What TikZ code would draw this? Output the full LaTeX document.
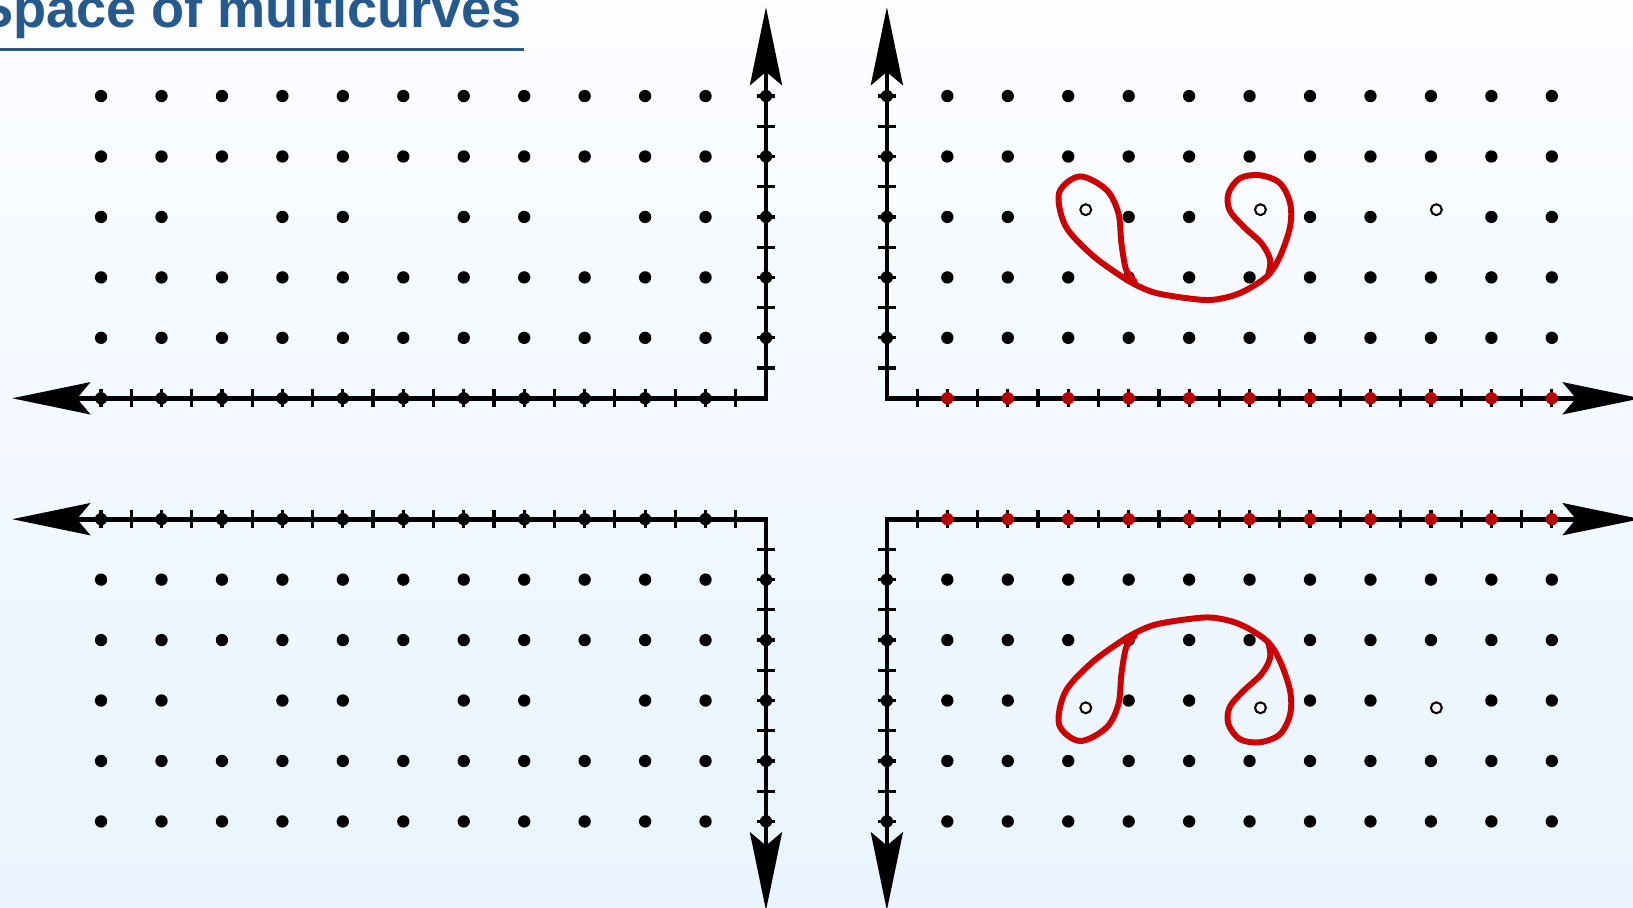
\documentclass[tikz,border=0pt]{standalone}
\usepackage{fontspec}
\setmainfont{Liberation Sans}
\usetikzlibrary{arrows.meta}
\definecolor{titleblue}{RGB}{38,89,140}
\definecolor{curvered}{RGB}{204,0,0}
\definecolor{dotred}{RGB}{180,0,0}
\definecolor{bgtop}{RGB}{252,253,255}
\definecolor{bgbot}{RGB}{233,244,254}
\begin{document}
\begin{tikzpicture}[x=1cm,y=1cm,
  axisline/.style={line width=2.2pt,
    {Stealth[length=1.29cm,width=0.53cm,inset=0.22cm]}-{Stealth[length=1.29cm,width=0.53cm,inset=0.22cm]}},
  tickmark/.style={line width=1.5pt},
  bdot/.style={fill=black},
  rdot/.style={fill=dotred},
  hole/.style={draw=black, line width=0.95pt, fill=white},
  curve/.style={draw=curvered, line width=2.8pt, line cap=round, line join=round}]
\useasboundingbox (-12.672,-8.432) rectangle (14.343,6.589);
\clip (-12.672,-8.432) rectangle (14.343,6.589);
\shade[top color=bgtop, bottom color=bgbot] (-12.672,-8.432) rectangle (14.343,6.589);

% title
\node[anchor=base east, inner sep=0, text=titleblue,
      font=\bfseries\fontsize{25.5}{30}\selectfont] (title) at (-4.03,6.13) {Space of multicurves};
\coordinate (ulA) at (-12.8,5.778);
\coordinate (ulB) at (-4.0,5.778);
\draw[titleblue, line width=1.4pt] (ulA) -- (ulB);

% corners and axis ends
\coordinate (cTL) at (0,0);   \coordinate (tlU) at (0,6.47);   \coordinate (tlL) at (-12.47,0);
\coordinate (cTR) at (2,0);   \coordinate (trU) at (2,6.47);   \coordinate (trR) at (14.47,0);
\coordinate (cBL) at (0,-2);  \coordinate (blD) at (0,-8.47);  \coordinate (blL) at (-12.47,-2);
\coordinate (cBR) at (2,-2);  \coordinate (brD) at (2,-8.47);  \coordinate (brR) at (14.47,-2);

% ticks
\foreach \i in {1,...,23} {
  \draw[tickmark] (-\i/2,-0.15) -- (-\i/2,0.15);
  \draw[tickmark] (-\i/2,-2.15) -- (-\i/2,-1.85);
  \draw[tickmark] (2+\i/2,-0.15) -- (2+\i/2,0.15);
  \draw[tickmark] (2+\i/2,-2.15) -- (2+\i/2,-1.85);
}
\foreach \i in {1,...,11} {
  \draw[tickmark] (-0.15,\i/2) -- (0.15,\i/2);
  \draw[tickmark] (1.85,\i/2) -- (2.15,\i/2);
  \draw[tickmark] (-0.15,-2-\i/2) -- (0.15,-2-\i/2);
  \draw[tickmark] (1.85,-2-\i/2) -- (2.15,-2-\i/2);
}

% axes
\draw[axisline] (tlU) -- (cTL) -- (tlL);
\draw[axisline] (trU) -- (cTR) -- (trR);
\draw[axisline] (blD) -- (cBL) -- (blL);
\draw[axisline] (brD) -- (cBR) -- (brR);

% axis dots
\foreach \i in {1,...,11} {
  \fill[bdot] (-\i,0) circle (0.102);
  \fill[bdot] (-\i,-2) circle (0.102);
  \fill[rdot] (2+\i,0) circle (0.102);
  \fill[rdot] (2+\i,-2) circle (0.102);
}
\foreach \j in {1,...,5} {
  \fill[bdot] (0,\j) circle (0.102);
  \fill[bdot] (2,\j) circle (0.102);
  \fill[bdot] (0,-2-\j) circle (0.102);
  \fill[bdot] (2,-2-\j) circle (0.102);
}

% lattice dots, left quadrants
\foreach \x in {1,...,11} {
  \foreach \y in {1,...,5} {
    \pgfmathtruncatemacro{\skip}{(\y==3 && (\x==3 || \x==6 || \x==9)) ? 1 : 0}
    \ifnum\skip=0
      \fill[bdot] (-\x,\y) circle (0.102);
      \fill[bdot] (-\x,-2-\y) circle (0.102);
    \fi
  }
}
% lattice dots, right quadrants
\foreach \x in {3,...,13} {
  \foreach \y in {1,...,5} {
    \pgfmathtruncatemacro{\skip}{(\y==3 && (\x==5 || \x==8 || \x==11)) ? 1 : 0}
    \ifnum\skip=0
      \fill[bdot] (\x,\y) circle (0.102);
      \fill[bdot] (\x,-2-\y) circle (0.102);
    \fi
  }
}

% red curves
\draw[curve] plot[smooth, tension=0.55] coordinates {
  (6.10,1.93) (5.96,2.12) (5.88,2.56) (5.83,3.06) (5.63,3.45) (5.19,3.67)
  (4.85,3.40) (4.95,2.86) (5.36,2.40) (5.80,2.07) (6.13,1.87) (6.46,1.74)
  (7.01,1.65) (7.40,1.63) (7.84,1.74) (8.28,2.01) (8.50,2.34) (8.67,2.84)
  (8.67,3.23) (8.50,3.56) (8.17,3.69) (7.84,3.64) (7.65,3.39) (7.67,3.11)
  (7.90,2.84) (8.20,2.56) (8.34,2.29) (8.31,2.05)};
\draw[curve] plot[smooth, tension=0.55] coordinates {
  (6.10,-3.93) (5.96,-4.12) (5.88,-4.56) (5.83,-5.06) (5.63,-5.45) (5.19,-5.67)
  (4.85,-5.40) (4.95,-4.86) (5.36,-4.40) (5.80,-4.07) (6.13,-3.87) (6.46,-3.74)
  (7.01,-3.65) (7.40,-3.63) (7.84,-3.74) (8.28,-4.01) (8.50,-4.34) (8.67,-4.84)
  (8.67,-5.23) (8.50,-5.56) (8.17,-5.69) (7.84,-5.64) (7.65,-5.39) (7.67,-5.11)
  (7.90,-4.84) (8.20,-4.56) (8.34,-4.29) (8.31,-4.05)};

% punctures
\foreach \x in {5.29,8.18,11.09} {
  \draw[hole] (\x,3.12) circle (0.09);
  \draw[hole] (\x,-5.12) circle (0.09);
}
\end{tikzpicture}
\end{document}
